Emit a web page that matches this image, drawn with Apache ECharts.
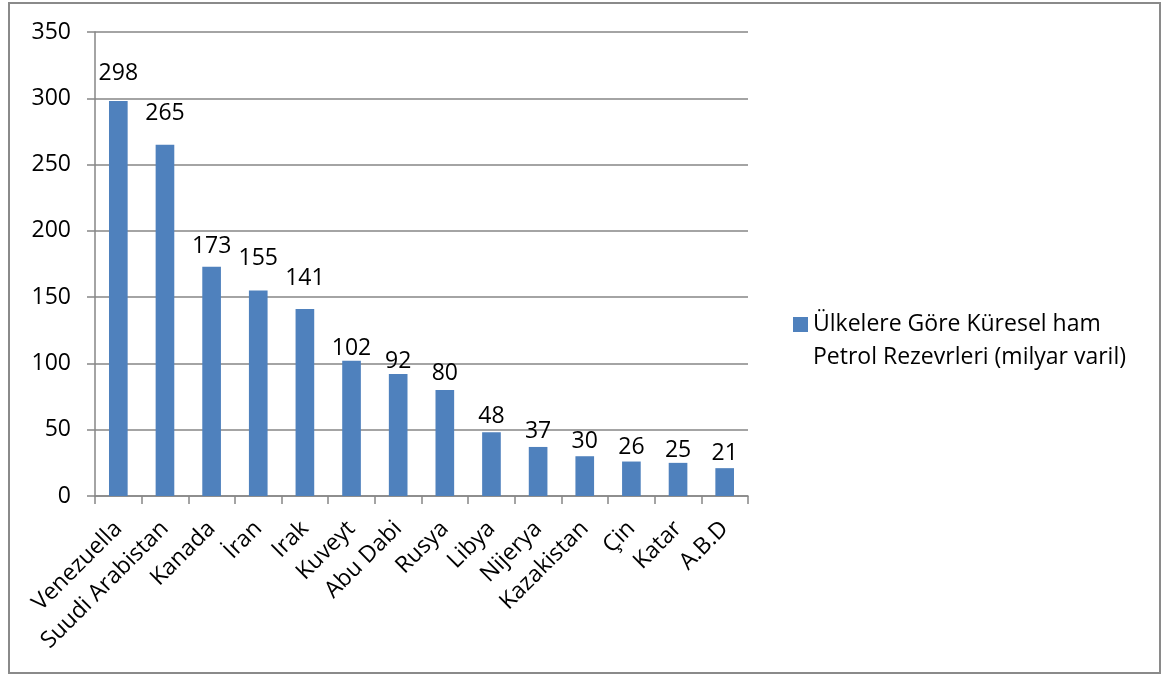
<!DOCTYPE html>
<html>
<head>
<meta charset="utf-8">
<title>Ülkelere Göre Küresel ham Petrol Rezevrleri</title>
<script src="https://cdn.jsdelivr.net/npm/echarts@6/dist/echarts.min.js"></script>
<style>
  html, body { margin: 0; padding: 0; background: #ffffff; }
  #chart { width: 1162px; height: 675px; }
</style>
</head>
<body>
<div id="chart"></div>
<script>
// Countries and their crude oil reserves (billion barrels)
const countries = ['Venezuella', 'Suudi Arabistan', 'Kanada', 'İran', 'Irak', 'Kuveyt', 'Abu Dabi',
  'Rusya', 'Libya', 'Nijerya', 'Kazakistan', 'Çin', 'Katar', 'A.B.D'];
const reserves = [298, 265, 173, 155, 141, 102, 92, 80, 48, 37, 30, 26, 25, 21];
const seriesName = 'Ülkelere Göre Küresel ham Petrol Rezevrleri (milyar varil)';
const yTicks = [0, 50, 100, 150, 200, 250, 300, 350];

// Space between each bar top and its value label
const labelGap = [16, 20, 9, 21, 19, 1, 1, 5, 4, 4, 3, 3, 1, 3];

const FONT = '"Open Sans", "Noto Sans", sans-serif';
const FONT_SIZE = 23;
const AXIS_GREY = '#868686';
const BAR_BLUE = '#4F81BD';

const chart = echarts.init(document.getElementById('chart'), null, { renderer: 'canvas' });

chart.setOption({
  backgroundColor: '#ffffff',
  animation: false,
  textStyle: { fontFamily: FONT },
  graphic: [{
    type: 'rect',
    shape: { x: 9, y: 3, width: 1151, height: 670 },
    style: { fill: 'none', stroke: '#8a8a8a', lineWidth: 2 },
    silent: true,
    z: 100
  }],
  grid: { left: 95, right: 414, top: 32, bottom: 179 },
  legend: {
    orient: 'vertical',
    left: 793,
    top: 275,
    padding: 0,
    itemWidth: 15,
    itemHeight: 15,
    icon: 'rect',
    // leading blank line keeps the swatch level with the first text line
    formatter: name => '\n' + name.replace(' ham ', ' ham\n'),
    textStyle: {
      fontFamily: FONT,
      fontSize: FONT_SIZE,
      color: '#000000',
      lineHeight: 33
    },
    data: [seriesName]
  },
  xAxis: {
    type: 'category',
    data: countries,
    boundaryGap: true,
    axisLine: { lineStyle: { color: AXIS_GREY, width: 1.5 } },
    axisTick: { show: true, length: 8, alignWithLabel: false, lineStyle: { color: AXIS_GREY, width: 1.5 } },
    axisLabel: {
      interval: 0,
      rotate: 45,
      margin: 29,
      fontFamily: FONT,
      fontSize: FONT_SIZE,
      color: '#000000'
    }
  },
  yAxis: {
    type: 'value',
    min: yTicks[0],
    max: yTicks[yTicks.length - 1],
    interval: yTicks[1] - yTicks[0],
    axisLine: { show: true, lineStyle: { color: AXIS_GREY, width: 1.5 } },
    axisTick: { show: true, length: 8, inside: false, lineStyle: { color: AXIS_GREY, width: 1.5 } },
    splitLine: { show: true, lineStyle: { color: AXIS_GREY, width: 1.5 } },
    axisLabel: {
      margin: 24,
      fontFamily: FONT,
      fontSize: FONT_SIZE,
      color: '#000000'
    }
  },
  series: [{
    name: seriesName,
    type: 'bar',
    barWidth: '40%',
    itemStyle: { color: BAR_BLUE },
    label: {
      show: true,
      position: 'top',
      fontFamily: FONT,
      fontSize: FONT_SIZE,
      color: '#000000'
    },
    data: reserves.map((v, i) => ({ value: v, label: { distance: labelGap[i] } }))
  }]
});
</script>
</body>
</html>
